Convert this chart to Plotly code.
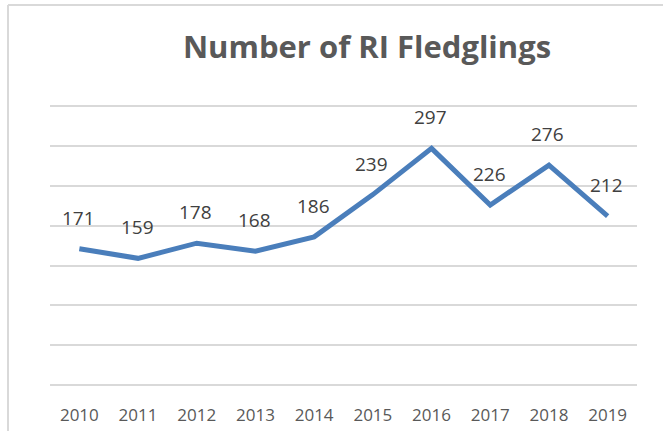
import plotly.graph_objects as go

years = ["2010", "2011", "2012", "2013", "2014", "2015", "2016", "2017", "2018", "2019"]
fledglings = [171, 159, 178, 168, 186, 239, 297, 226, 276, 212]

W, H = 663, 431
YMAX = 354
L, R, B, T = 50, 26, 46, 103
pw, ph = W - L - R, H - T - B

def px_to_paper_x(px):
    return (px - L) / pw

def px_to_paper_y(py):
    return (H - B - py) / ph

FONT = "'Open Sans', 'Noto Sans', sans-serif"

fig = go.Figure()
fig.add_trace(go.Scatter(
    x=years, y=fledglings, mode="lines",
    line=dict(color="#4A7EBB", width=5),
    hoverinfo="x+y",
))

for i, v in enumerate(fledglings):
    fig.add_annotation(
        x=i, y=v, text=str(v), showarrow=False,
        yshift=31, xshift=-1,
        font=dict(family=FONT, size=19, color="#404040"),
    )

# outer chart border (left and top edges visible)
fig.add_shape(type="line", xref="paper", yref="paper",
              x0=px_to_paper_x(8), x1=px_to_paper_x(700),
              y0=px_to_paper_y(5), y1=px_to_paper_y(5),
              line=dict(color="#D9D9D9", width=2))
fig.add_shape(type="line", xref="paper", yref="paper",
              x0=px_to_paper_x(8), x1=px_to_paper_x(8),
              y0=px_to_paper_y(5), y1=px_to_paper_y(460),
              line=dict(color="#D9D9D9", width=2))

fig.update_layout(
    width=W, height=H,
    margin=dict(l=L, r=R, t=T, b=B, autoexpand=False),
    paper_bgcolor="white", plot_bgcolor="white",
    showlegend=False,
    title=dict(
        text="<b>Number of RI Fledglings</b>",
        x=367 / W, xanchor="center",
        y=1 - 47 / H, yanchor="middle",
        font=dict(family=FONT, size=31, color="#595959"),
    ),
    xaxis=dict(
        type="category", range=[-0.5, 9.5], automargin=False,
        showgrid=False, zeroline=False, showline=False,
        ticks="", ticklen=0, ticklabelstandoff=18,
        tickfont=dict(family=FONT, size=17, color="#595959"),
    ),
    yaxis=dict(
        range=[0, YMAX], dtick=50, tick0=0, automargin=False,
        showgrid=True, gridcolor="#D9D9D9", gridwidth=1.5,
        zeroline=True, zerolinecolor="#D9D9D9", zerolinewidth=1.5,
        showticklabels=False, ticks="", showline=False,
    ),
)

fig.write_html("out.html", config={"displayModeBar": False},
               post_script="document.body.style.margin='0';")
